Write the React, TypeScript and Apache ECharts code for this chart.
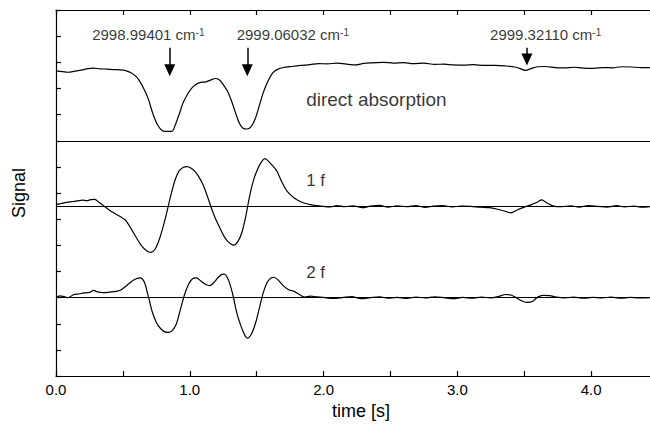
import React, { useEffect, useRef } from 'react';
import * as echarts from 'echarts';

const FONT = 'Liberation Sans, Arial, Helvetica, sans-serif';

// Direct absorption trace
const absT = [0.00,0.05,0.09,0.14,0.19,0.24,0.28,0.33,0.38,0.43,0.48,0.52,0.56,0.60,0.63,0.66,0.69,0.72,0.75,0.78,0.80,0.84,0.87,0.89,0.92,0.95,0.98,1.01,1.04,1.08,1.12,1.16,1.19,1.22,1.25,1.28,1.31,1.34,1.37,1.40,1.43,1.46,1.49,1.52,1.55,1.58,1.62,1.66,1.70,1.76,1.83,1.90,1.96,2.03,2.10,2.17,2.24,2.30,2.37,2.45,2.52,2.60,2.67,2.75,2.83,2.90,2.97,3.05,3.12,3.20,3.28,3.36,3.43,3.48,3.51,3.55,3.60,3.66,3.73,3.80,3.87,3.94,4.02,4.09,4.16,4.23,4.30,4.37,4.44];
const absV = [11.67,11.64,11.62,11.66,11.70,11.76,11.78,11.75,11.74,11.72,11.71,11.68,11.60,11.45,11.24,10.95,10.60,10.10,9.70,9.45,9.37,9.36,9.37,9.58,10.00,10.45,10.75,10.98,11.13,11.23,11.25,11.33,11.38,11.33,11.15,10.91,10.55,10.10,9.68,9.47,9.45,9.55,9.85,10.35,10.85,11.23,11.60,11.74,11.80,11.84,11.88,11.91,11.95,11.94,11.97,11.93,11.90,11.96,11.98,12.00,11.97,11.99,11.95,11.97,11.92,11.93,11.90,11.89,11.91,11.88,11.88,11.86,11.82,11.74,11.69,11.76,11.83,11.84,11.80,11.79,11.81,11.78,11.77,11.80,11.79,11.83,11.82,11.80,11.80];

// 1f trace
const f1T = [0.00,0.04,0.08,0.12,0.16,0.20,0.23,0.26,0.29,0.32,0.36,0.40,0.44,0.48,0.52,0.56,0.60,0.64,0.68,0.71,0.74,0.77,0.80,0.83,0.86,0.89,0.92,0.95,0.98,1.01,1.04,1.07,1.10,1.13,1.16,1.19,1.22,1.25,1.28,1.31,1.33,1.36,1.39,1.42,1.45,1.48,1.51,1.54,1.56,1.58,1.61,1.65,1.69,1.73,1.78,1.83,1.88,1.93,1.98,2.05,2.10,2.16,2.22,2.29,2.35,2.42,2.48,2.55,2.62,2.69,2.76,2.82,2.89,2.96,3.03,3.10,3.17,3.24,3.30,3.36,3.40,3.45,3.50,3.55,3.60,3.63,3.67,3.72,3.78,3.85,3.91,3.98,4.05,4.12,4.19,4.25,4.32,4.38,4.44];
const f1V = [6.56,6.60,6.64,6.67,6.70,6.73,6.71,6.75,6.76,6.65,6.50,6.34,6.22,6.10,5.96,5.65,5.30,4.98,4.78,4.73,4.85,5.20,5.70,6.30,6.95,7.50,7.85,7.98,8.01,7.95,7.82,7.60,7.31,6.90,6.45,6.05,5.72,5.40,5.17,5.04,5.01,5.15,5.50,6.15,6.95,7.55,7.95,8.22,8.32,8.26,8.10,7.85,7.40,7.05,6.81,6.67,6.58,6.53,6.50,6.47,6.52,6.48,6.51,6.44,6.50,6.53,6.46,6.51,6.48,6.52,6.45,6.50,6.52,6.47,6.50,6.49,6.46,6.44,6.38,6.30,6.24,6.36,6.46,6.55,6.66,6.74,6.62,6.50,6.48,6.51,6.46,6.52,6.49,6.46,6.52,6.47,6.50,6.46,6.48];

// 2f trace
const f2T = [0.00,0.03,0.06,0.09,0.13,0.17,0.21,0.25,0.28,0.31,0.35,0.40,0.45,0.48,0.52,0.56,0.60,0.63,0.66,0.69,0.72,0.75,0.78,0.81,0.84,0.87,0.90,0.93,0.96,0.99,1.02,1.05,1.08,1.12,1.15,1.18,1.21,1.24,1.26,1.29,1.32,1.35,1.38,1.41,1.43,1.46,1.49,1.52,1.55,1.58,1.61,1.63,1.66,1.70,1.74,1.78,1.82,1.86,1.90,1.95,2.00,2.07,2.14,2.21,2.28,2.35,2.42,2.48,2.55,2.62,2.69,2.76,2.83,2.90,2.97,3.04,3.11,3.18,3.25,3.31,3.36,3.40,3.44,3.48,3.52,3.56,3.60,3.64,3.69,3.74,3.80,3.87,3.94,4.01,4.08,4.15,4.22,4.29,4.36,4.44];
const f2V = [3.00,3.07,3.04,3.00,3.11,3.14,3.18,3.20,3.28,3.22,3.19,3.21,3.24,3.28,3.43,3.60,3.72,3.76,3.60,3.05,2.45,2.05,1.83,1.70,1.67,1.75,2.00,2.55,3.10,3.50,3.72,3.76,3.65,3.50,3.46,3.58,3.76,3.89,3.90,3.66,3.15,2.45,1.95,1.58,1.45,1.60,2.00,2.60,3.20,3.60,3.76,3.78,3.68,3.45,3.30,3.24,3.12,3.02,3.06,3.03,3.01,2.97,3.00,3.04,2.96,3.00,3.03,2.98,3.01,2.97,3.02,2.99,3.03,3.00,2.96,3.01,2.98,3.02,2.99,3.05,3.12,3.10,3.00,2.88,2.82,2.85,3.02,3.09,3.08,3.02,2.99,3.02,2.98,3.01,2.99,3.02,2.98,3.01,2.99,3.00];

// Horizontal reference lines (panel bottom / zero lines)
const baselines = [9, 6.5, 3];

// Peak annotations
const peakLabels = ['2998.99401', '2999.06032', '2999.32110'];
const peakLabelT = [0.69, 1.77, 3.66];
const peakLabelV = [13.05, 13.05, 13.05];
const arrowT = [0.85, 1.43, 3.52];
const arrowTopV = [12.56, 12.56, 12.56];
const arrowEndV = [11.70, 11.70, 12.11];

// Panel labels
const panelNames = ['direct absorption', '1 f', '2 f'];
const panelT = [1.87, 1.87, 1.87];
const panelV = [10.59, 7.47, 3.97];

const xTickLabels = ['0.0', '1.0', '2.0', '3.0', '4.0'];

const zip = (a: number[], b: number[]) => a.map((v, i) => [v, b[i]]);

export default function App() {
  const ref = useRef<HTMLDivElement>(null);
  useEffect(() => {
    const chart = echarts.init(ref.current!, null, { renderer: 'svg' });
    const lineCommon = {
      type: 'line' as const,
      showSymbol: false,
      symbol: 'none',
      smooth: 0.3,
      lineStyle: { color: '#000', width: 1.2 },
      silent: true,
    };
    const option: any = {
      animation: false,
      backgroundColor: '#fff',
      grid: { left: 56, top: 10, right: 0, bottom: 45 },
      xAxis: [
        {
          type: 'value',
          min: 0,
          max: 4.44,
          interval: 0.5,
          position: 'bottom',
          name: 'time [s]',
          nameLocation: 'middle',
          nameGap: 22,
          nameTextStyle: { fontFamily: FONT, fontSize: 18, color: '#000', padding: [0, 0, 0, 16] },
          axisLine: { lineStyle: { color: '#000', width: 1.2 } },
          axisTick: { inside: true, length: 5, lineStyle: { color: '#000', width: 1.2 } },
          axisLabel: {
            fontFamily: FONT,
            fontSize: 15,
            color: '#000',
            margin: 6,
            showMaxLabel: false,
            formatter: (v: number) => {
              const i = Math.round(v);
              return Math.abs(v - i) < 1e-6 && i < xTickLabels.length ? xTickLabels[i] : '';
            },
          },
          splitLine: { show: false },
        },
        {
          type: 'value',
          min: 0,
          max: 4.44,
          interval: 0.5,
          position: 'top',
          axisLine: { lineStyle: { color: '#000', width: 1.2 } },
          axisTick: { inside: true, length: 5, lineStyle: { color: '#000', width: 1.2 } },
          axisLabel: { show: false },
          splitLine: { show: false },
        },
      ],
      yAxis: {
        type: 'value',
        min: 0,
        max: 14,
        interval: 1,
        name: 'Signal',
        nameLocation: 'middle',
        nameGap: 28,
        nameTextStyle: { fontFamily: FONT, fontSize: 18, color: '#000' },
        axisLine: { show: true, lineStyle: { color: '#000', width: 1.2 } },
        axisTick: { show: true, inside: true, length: 5, lineStyle: { color: '#000', width: 1.2 } },
        axisLabel: { show: false },
        splitLine: { show: false },
      },
      series: [
        {
          ...lineCommon,
          name: 'direct absorption',
          data: zip(absT, absV),
          markLine: {
            silent: true,
            symbol: 'none',
            animation: false,
            label: { show: false },
            lineStyle: { color: '#000', width: 1.2, type: 'solid' },
            data: baselines.map((b) => ({ yAxis: b })),
          },
        },
        { ...lineCommon, name: '1 f', data: zip(f1T, f1V) },
        { ...lineCommon, name: '2 f', data: zip(f2T, f2V) },
        {
          type: 'scatter',
          name: 'arrows',
          data: [],
          silent: true,
          markLine: {
            silent: true,
            animation: false,
            symbol: ['none', 'triangle'],
            symbolSize: 12,
            label: { show: false },
            lineStyle: { color: '#000', width: 1.5, type: 'solid' },
            itemStyle: { color: '#000' },
            data: arrowT.map((t, i) => [
              { coord: [t, arrowTopV[i]], symbol: 'none' },
              { coord: [t, arrowEndV[i]], symbol: 'triangle', symbolSize: [11, 12] },
            ]),
          },
        },
        {
          type: 'scatter',
          name: 'peak labels',
          symbolSize: 0,
          silent: true,
          data: peakLabels.map((s, i) => ({
            value: [peakLabelT[i], peakLabelV[i]],
            label: {
              show: true,
              position: 'inside',
              formatter: `{a|${s} cm}{b|-1}`,
              rich: {
                a: { fontFamily: FONT, fontSize: 15, color: '#000' },
                b: { fontFamily: FONT, fontSize: 10, color: '#000', verticalAlign: 'top' },
              },
            },
          })),
        },
        {
          type: 'scatter',
          name: 'panel labels',
          symbolSize: 0,
          silent: true,
          data: panelNames.map((s, i) => ({
            value: [panelT[i], panelV[i]],
            label: {
              show: true,
              position: 'right',
              distance: 0,
              formatter: s,
              fontFamily: FONT,
              fontSize: i === 0 ? 19 : 17,
              color: '#000',
            },
          })),
        },
      ],
    };
    chart.setOption(option);
    return () => chart.dispose();
  }, []);
  return <div ref={ref} style={{ position: 'fixed', left: 0, top: 0, width: 650, height: 425 }} />;
}
